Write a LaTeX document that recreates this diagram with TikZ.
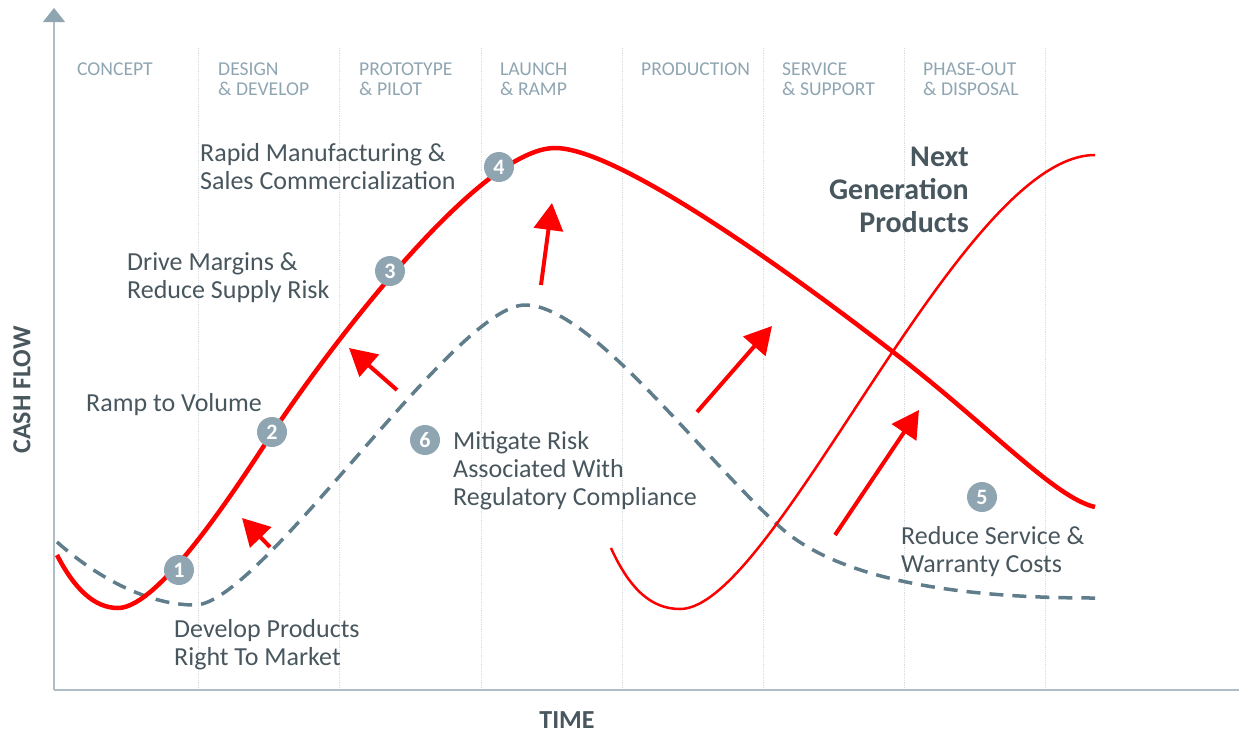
\documentclass[tikz,border=0pt]{standalone}
\usepackage{fontspec}
\setmainfont{Carlito}
\usetikzlibrary{arrows.meta}
\definecolor{curvered}{RGB}{255,0,0}
\definecolor{slate}{RGB}{96,125,139}
\definecolor{badgegray}{RGB}{143,166,178}
\definecolor{textgray}{RGB}{72,86,94}
\definecolor{axisgray}{RGB}{175,190,198}
\definecolor{gridgray}{RGB}{215,222,226}
\begin{document}
\begin{tikzpicture}[x=1pt, y=-1pt,
    badge/.style={circle, fill=badgegray, text=white, minimum size=30pt, inner sep=0pt, font=\fontsize{22}{22}\selectfont\bfseries},
    lbl/.style={anchor=north west, align=left, inner sep=0pt, text=textgray, font=\fontsize{26}{28}\selectfont},
    phase/.style={anchor=north west, align=left, inner sep=0pt, text=badgegray, font=\fontsize{19.6}{20}\selectfont},
    bigarrow/.style={curvered, line width=4pt, -{Triangle[length=27pt, width=29pt]}},
    axislbl/.style={text=textgray, font=\fontsize{26}{26}\selectfont\bfseries}]
\useasboundingbox (0,0) rectangle (1239,734);
    % phase grid
    \foreach \x in {198,339,481,622,763,904,1045}
        \draw[gridgray, line width=0.8pt, densely dotted] (\x,48) -- (\x,690);
    \foreach \x/\txt/\nm in {77/CONCEPT/ph1, 218/{DESIGN\\\& DEVELOP}/ph2, 359/{PROTOTYPE\\\& PILOT}/ph3,
        500/{LAUNCH\\\& RAMP}/ph4, 641/PRODUCTION/ph5, 782/{SERVICE\\\& SUPPORT}/ph6, 923/{PHASE-OUT\\\& DISPOSAL}/ph7}
        \node[phase] (\nm) at (\x,63) {\txt};
    % axes
    \coordinate (o) at (54,690);
    \coordinate (ytop) at (54,8);
    \coordinate (xend) at (1239,690);
    \draw[axisgray, line width=1.2pt, -{Triangle[length=14pt, width=22pt, color=badgegray]}] (o) -- (ytop);
    \draw[axisgray, line width=1.2pt] (o) -- (xend);
    \node[axislbl, rotate=90] (cash) at (22,390) {CASH FLOW};
    \node[axislbl] (time) at (567,720) {TIME};
    % curves
    \draw[slate, line width=3.5pt, dash pattern=on 14pt off 9pt]
        (57,542) .. controls (100,580) and (150,605) .. (195,605)
        .. controls (260,605) and (455,305) .. (525,305)
        .. controls (590,305) and (700,455) .. (780,527)
        .. controls (850,590) and (1000,598) .. (1095,598);
    \draw[curvered, line width=2.5pt]
        (611,548) .. controls (630,590) and (652,609) .. (680,609)
        .. controls (775,609) and (960,155) .. (1095,155);
    \draw[curvered, line width=4.5pt]
        (57,555) .. controls (75,590) and (95,608) .. (118,608)
        .. controls (160,608) and (240,482) .. (273,432)
        .. controls (330,346) and (480,148) .. (555,148)
        .. controls (620,148) and (800,280) .. (897,355)
        .. controls (990,427) and (1055,498) .. (1095,507);
    % arrows
    \coordinate (a1s) at (270,547);
    \coordinate (a1e) at (242,518);
    \coordinate (a2s) at (397,390);
    \coordinate (a2e) at (349,348);
    \coordinate (a3s) at (541,285);
    \coordinate (a3e) at (552,203);
    \coordinate (a4s) at (697,412);
    \coordinate (a4e) at (772,326);
    \coordinate (a5s) at (835,535);
    \coordinate (a5e) at (919,410);
    \foreach \from/\to in {a1s/a1e, a2s/a2e, a3s/a3e, a4s/a4e, a5s/a5e}
        \draw[bigarrow] (\from) -- (\to);
    % badges
    \node[badge] (b1) at (179,570) {1};
    \node[badge] (b2) at (272,432) {2};
    \node[badge] (b3) at (390,271) {3};
    \node[badge] (b4) at (499,167) {4};
    \node[badge] (b5) at (982,497) {5};
    \node[badge] (b6) at (425,440) {6};
    % labels
    \node[lbl] (l4) at (200,143) {Rapid Manufacturing \&\\Sales Commercialization};
    \node[lbl] (l3) at (127,252) {Drive Margins \&\\Reduce Supply Risk};
    \node[lbl] (l2) at (86,393) {Ramp to Volume};
    \node[lbl] (l6) at (453,431) {Mitigate Risk\\Associated With\\Regulatory Compliance};
    \node[lbl] (l1) at (174,619) {Develop Products\\Right To Market};
    \node[lbl] (l5) at (901,526) {Reduce Service \&\\Warranty Costs};
    \node[anchor=north east, align=right, inner sep=0pt, text=textgray, font=\fontsize{30}{33}\selectfont\bfseries] (ngp) at (969,147) {Next\\Generation\\Products};
\end{tikzpicture}
\end{document}
